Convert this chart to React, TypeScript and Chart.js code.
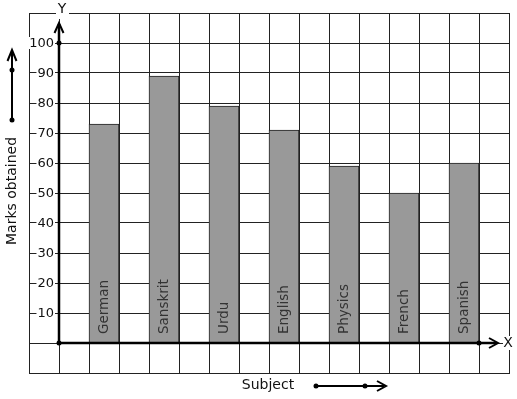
import React, { useEffect, useRef } from "react";
import { Chart, registerables } from "chart.js";

Chart.register(...registerables);

const subjects = ["German", "Sanskrit", "Urdu", "English", "Physics", "French", "Spanish"];
const marks = [73, 89, 79, 71, 59, 50, 60];
const yTickLabels = [10, 20, 30, 40, 50, 60, 70, 80, 90, 100];
const slotCount = 16;
const firstSlot = 2;
const slotStep = 2;

const FONT = "'DejaVu Sans', sans-serif";

const slotLabels: string[] = [];
const slotData: (number | null)[] = [];
for (let i = 0; i < slotCount; i++) {
  slotLabels.push("");
  slotData.push(null);
}
subjects.forEach((s, i) => {
  const k = firstSlot + i * slotStep;
  slotLabels[k] = s;
  slotData[k] = marks[i];
});

function dot(ctx: CanvasRenderingContext2D, x: number, y: number, r = 2.5) {
  ctx.beginPath();
  ctx.arc(x, y, r, 0, Math.PI * 2);
  ctx.fill();
}

const decorPlugin = {
  id: "decor",
  afterDatasetsDraw(chart: any) {
    const ctx: CanvasRenderingContext2D = chart.ctx;
    const xs = chart.scales.x;
    const ys = chart.scales.y;
    const cell = xs.getPixelForValue(1) - xs.getPixelForValue(0);
    const axisX = Math.round(xs.getPixelForValue(0) + cell / 2);
    const axisY = Math.round(ys.getPixelForValue(0));
    const top = chart.chartArea.top;
    const right = chart.chartArea.right;
    ctx.save();

    // bar labels
    ctx.fillStyle = "#333";
    ctx.font = `13.5px ${FONT}`;
    ctx.textAlign = "left";
    ctx.textBaseline = "middle";
    subjects.forEach((s, i) => {
      const k = firstSlot + i * slotStep;
      const cx = xs.getPixelForValue(k);
      ctx.save();
      ctx.translate(cx + 0.5, axisY - 9);
      ctx.rotate(-Math.PI / 2);
      ctx.fillText(s, 0, 0);
      ctx.restore();
    });

    // y tick labels with white backdrop
    ctx.font = `13px ${FONT}`;
    ctx.textAlign = "right";
    ctx.textBaseline = "middle";
    yTickLabels.forEach((v) => {
      const py = ys.getPixelForValue(v);
      const t = String(v);
      const w = ctx.measureText(t).width;
      const rx = axisX - 5;
      ctx.fillStyle = "#fff";
      ctx.fillRect(rx - w - 1, py - 6, w + 2, 12);
      ctx.fillStyle = "#111";
      ctx.fillText(t, rx, py + 0.5);
    });

    // Y and X labels
    ctx.font = `14px ${FONT}`;
    ctx.textAlign = "center";
    ctx.textBaseline = "middle";
    ctx.fillStyle = "#fff";
    ctx.fillRect(axisX - 3, top - 7, 13, 13);
    ctx.fillStyle = "#111";
    ctx.fillText("Y", axisX + 3, top - 4);
    ctx.fillStyle = "#fff";
    ctx.fillRect(right - 6, axisY - 7, 12, 14);
    ctx.fillStyle = "#111";
    ctx.fillText("X", right - 1, axisY);

    // axes
    ctx.strokeStyle = "#000";
    ctx.fillStyle = "#000";
    ctx.lineWidth = 2.5;
    ctx.lineCap = "butt";
    ctx.beginPath();
    ctx.moveTo(axisX, axisY);
    ctx.lineTo(axisX, top + 11);
    ctx.stroke();
    ctx.lineWidth = 2;
    ctx.beginPath();
    ctx.moveTo(axisX - 4.5, top + 20);
    ctx.lineTo(axisX, top + 10);
    ctx.lineTo(axisX + 4.5, top + 20);
    ctx.stroke();

    ctx.lineWidth = 2.5;
    ctx.beginPath();
    ctx.moveTo(axisX, axisY);
    ctx.lineTo(right - 13, axisY);
    ctx.stroke();
    ctx.lineWidth = 2;
    ctx.beginPath();
    ctx.moveTo(right - 20, axisY - 5);
    ctx.lineTo(right - 11, axisY);
    ctx.lineTo(right - 20, axisY + 5);
    ctx.stroke();

    dot(ctx, axisX, ys.getPixelForValue(100));
    dot(ctx, axisX, axisY);
    dot(ctx, right - cell, axisY);

    // left title and arrow
    ctx.save();
    ctx.translate(12, 191);
    ctx.rotate(-Math.PI / 2);
    ctx.font = `14px ${FONT}`;
    ctx.textAlign = "center";
    ctx.textBaseline = "middle";
    ctx.fillStyle = "#111";
    ctx.fillText("Marks obtained", 0, 0);
    ctx.restore();

    ctx.lineWidth = 2;
    ctx.beginPath();
    ctx.moveTo(12, 120);
    ctx.lineTo(12, 51);
    ctx.stroke();
    ctx.beginPath();
    ctx.moveTo(7.5, 61);
    ctx.lineTo(12, 50);
    ctx.lineTo(16.5, 61);
    ctx.stroke();
    dot(ctx, 12, 120);
    dot(ctx, 12, 70);

    // bottom title and arrow
    ctx.font = `14px ${FONT}`;
    ctx.textAlign = "center";
    ctx.textBaseline = "middle";
    ctx.fillStyle = "#111";
    ctx.fillText("Subject", 268, 385);
    ctx.fillStyle = "#000";
    ctx.beginPath();
    ctx.moveTo(316, 386);
    ctx.lineTo(384, 386);
    ctx.stroke();
    ctx.beginPath();
    ctx.moveTo(377, 381);
    ctx.lineTo(386, 386);
    ctx.lineTo(377, 391);
    ctx.stroke();
    dot(ctx, 316, 386);
    dot(ctx, 365, 386);

    ctx.restore();
  },
};

export default function App() {
  const ref = useRef<HTMLCanvasElement | null>(null);
  useEffect(() => {
    document.body.style.margin = "0";
    if (!ref.current) return;
    const chart = new Chart(ref.current, {
      type: "bar",
      data: {
        labels: slotLabels,
        datasets: [
          {
            data: slotData,
            backgroundColor: "#999999",
            borderColor: "#222",
            borderWidth: 1,
            borderSkipped: "bottom",
            barPercentage: 1,
            categoryPercentage: 1,
          },
        ],
      },
      options: {
        responsive: false,
        animation: false,
        layout: { padding: { left: 29, top: 13, right: 8, bottom: 26 } },
        plugins: { legend: { display: false }, tooltip: { enabled: false }, title: { display: false } },
        scales: {
          x: {
            type: "category",
            offset: true,
            grid: { color: "#222", lineWidth: 1, drawTicks: false, offset: true },
            border: { display: true, color: "#222", width: 1 },
            ticks: { display: false },
            afterFit: (s: any) => {
              s.height = 0;
            },
          },
          y: {
            min: -10,
            max: 110,
            ticks: { display: false, stepSize: 10 },
            grid: { color: "#222", lineWidth: 1, drawTicks: false },
            border: { display: true, color: "#222", width: 1 },
            afterFit: (s: any) => {
              s.width = 0;
            },
          },
        },
      },
      plugins: [decorPlugin],
    });
    return () => chart.destroy();
  }, []);
  return (
    <div style={{ width: 517, height: 399, background: "#fff" }}>
      <canvas ref={ref} width={517} height={399} style={{ display: "block" }} />
    </div>
  );
}
